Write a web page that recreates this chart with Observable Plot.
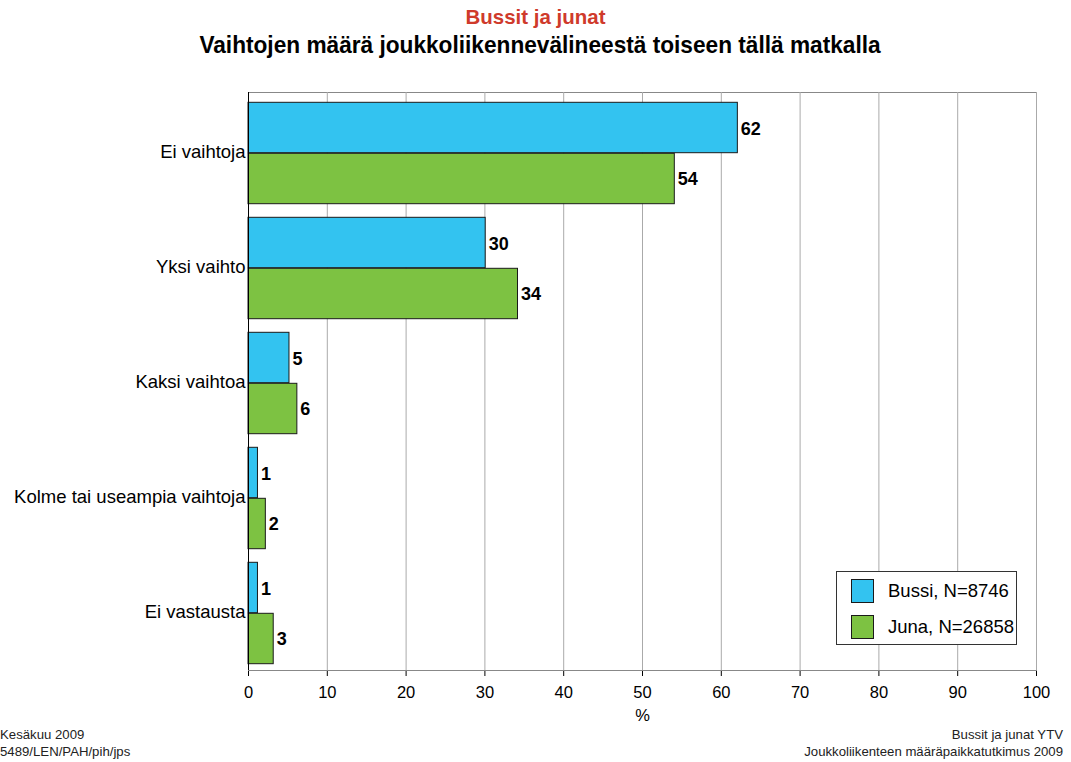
<!DOCTYPE html>
<html><head><meta charset="utf-8">
<script src="https://cdn.jsdelivr.net/npm/d3@7"></script>
<script src="https://cdn.jsdelivr.net/npm/@observablehq/plot@0.6"></script>
<style>
body{margin:0;background:#fff;font-family:"Liberation Sans",Arial,sans-serif;color:#000;}
#wrap{position:relative;width:1071px;height:762px;overflow:hidden;background:#fff;}
#t1{position:absolute;left:0;width:1071px;top:4px;text-align:center;font-weight:bold;font-size:21px;color:#CF3A2B;line-height:26px;transform:scaleX(0.975);transform-origin:536px 0;}
#t2{position:absolute;left:0;width:1080px;top:31px;text-align:center;font-weight:bold;font-size:24px;line-height:28px;transform:scaleX(0.944);transform-origin:540px 0;}
#chart{position:absolute;left:0;top:60px;}
#chart g[aria-label="y-axis tick label"] text{font-size:18.5px;}
#legend{position:absolute;left:836px;top:571px;width:179px;height:72px;border:1px solid #333;background:#fff;}
.li{position:absolute;left:14px;height:24px;font-size:18.5px;line-height:24px;white-space:nowrap;}
.sw{display:inline-block;width:21px;height:22px;border:1px solid #1a1a1a;vertical-align:top;margin-right:14px;}
#fl{position:absolute;left:0;top:726px;font-size:13.2px;line-height:17px;color:#222;}
#fr{position:absolute;right:8px;top:726px;font-size:13.2px;line-height:17px;color:#222;text-align:right;}
</style></head><body>
<div id="wrap">
 <div id="t1">Bussit ja junat</div>
 <div id="t2">Vaihtojen määrä joukkoliikennevälineestä toiseen tällä matkalla</div>
 <div id="chart"></div>
 <div id="legend"></div>
 <div id="fl">Kesäkuu 2009<br>5489/LEN/PAH/pih/jps</div>
 <div id="fr">Bussit ja junat YTV<br>Joukkoliikenteen määräpaikkatutkimus 2009</div>
</div>
<script>
const categories = ["Ei vaihtoja", "Yksi vaihto", "Kaksi vaihtoa", "Kolme tai useampia vaihtoja", "Ei vastausta"];
const seriesNames = ["Bussi, N=8746", "Juna, N=26858"];
const bussi = [62.1, 30.1, 5.2, 1.2, 1.2];
const juna = [54.1, 34.2, 6.2, 2.2, 3.2];
const xTicks = [0, 10, 20, 30, 40, 50, 60, 70, 80, 90, 100];
const colors = ["#33C3F0", "#7DC242"];

const rowsB = categories.map((c, i) => ({cat: c, value: bussi[i], series: seriesNames[0]}));
const rowsJ = categories.map((c, i) => ({cat: c, value: juna[i], series: seriesNames[1]}));

const chart = Plot.plot({
  width: 1071,
  height: 660,
  marginTop: 32,
  marginBottom: 50,
  marginLeft: 248,
  marginRight: 35,
  style: {fontFamily: "Liberation Sans, Arial, sans-serif", fontSize: "16.5px", color: "#000", background: "transparent", overflow: "visible"},
  x: {domain: [0, 100], ticks: xTicks, tickSize: 6, tickPadding: 10, label: "%", labelAnchor: "center", labelOffset: 50, labelArrow: "none", line: true},
  y: {domain: categories, padding: 0, tickSize: 0, tickPadding: 3, label: null},
  color: {domain: seriesNames, range: colors},
  marks: [
    Plot.frame({stroke: "#888"}),
    Plot.ruleX(xTicks.slice(1), {stroke: "#aaa", strokeWidth: 1}),
    Plot.barX(rowsB, {x: "value", y: "cat", fill: "series", stroke: "#1a1a1a", strokeWidth: 1, insetTop: 8.3, insetBottom: 56.3}),
    Plot.barX(rowsJ, {x: "value", y: "cat", fill: "series", stroke: "#1a1a1a", strokeWidth: 1, insetTop: 59.3, insetBottom: 5.3}),
    Plot.text(rowsB, {x: "value", y: "cat", text: d => String(Math.round(d.value)), dx: 3, dy: -23, textAnchor: "start", fontWeight: "bold", fontSize: 18, fill: "#000"}),
    Plot.text(rowsJ, {x: "value", y: "cat", text: d => String(Math.round(d.value)), dx: 3, dy: 27, textAnchor: "start", fontWeight: "bold", fontSize: 18, fill: "#000"}),
    Plot.ruleX([0], {stroke: "#000"})
  ]
});
document.getElementById("chart").appendChild(chart);

const legend = document.getElementById("legend");
seriesNames.forEach((s, i) => {
  const row = document.createElement("div");
  row.className = "li";
  row.style.top = (7 + i * 35.5) + "px";
  const sw = document.createElement("span");
  sw.className = "sw";
  sw.style.background = colors[i];
  row.appendChild(sw);
  row.appendChild(document.createTextNode(s));
  legend.appendChild(row);
});
</script>
</body></html>
